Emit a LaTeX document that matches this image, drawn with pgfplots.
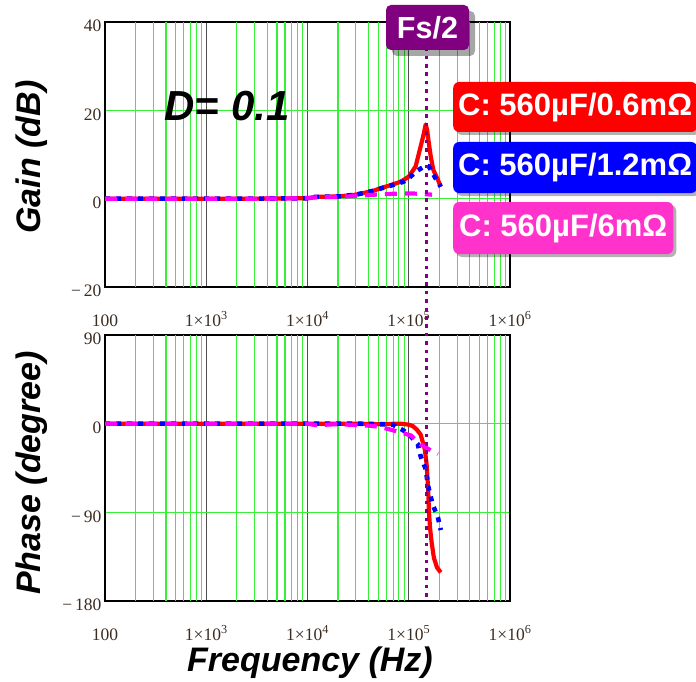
\documentclass[border=0pt]{standalone}
\usepackage{pgfplots}
\pgfplotsset{compat=1.18}
\usepackage{fontspec}
\setmainfont{Liberation Serif}
\newfontfamily\arial{Liberation Sans}
\usetikzlibrary{shadows}
\definecolor{gridgreen}{RGB}{55,240,55}
\definecolor{decgray}{RGB}{80,80,80}
\definecolor{fspurple}{RGB}{128,0,128}
\definecolor{legmag}{RGB}{255,51,204}
\definecolor{ticktxt}{RGB}{60,45,35}
\definecolor{cred}{RGB}{255,0,0}
\definecolor{cblue}{RGB}{0,0,255}
\definecolor{cmag}{RGB}{255,0,255}
\newcommand{\lblfont}{\arial\bfseries\itshape\fontsize{34}{36}\selectfont}
\newcommand{\legfont}{\arial\bfseries\fontsize{31}{33}\selectfont}
\tikzset{
 redl/.style={cred, line width=4.2pt, line join=round},
 bluel/.style={cblue, line width=4.6pt, dash pattern=on 5pt off 6pt},
 magl/.style={cmag, line width=4.2pt, dash pattern=on 12pt off 8pt},
}
\begin{document}
\begin{tikzpicture}
\path[use as bounding box] (0pt,0pt) rectangle (696pt,-682pt);
% ---------- Gain ----------
\begin{axis}[xmode=log, scale only axis, width=405pt,
  xmin=100, xmax=1000000,
  xtick={100,1000,10000,100000,1000000},
  xticklabels={100, 1×10\textsuperscript{3}, 1×10\textsuperscript{4}, 1×10\textsuperscript{5}, 1×10\textsuperscript{6}},
  minor xtick={},
  extra x ticks={200,300,400,500,600,700,800,900,2000,3000,4000,5000,6000,7000,8000,9000,20000,30000,40000,50000,60000,70000,80000,90000,200000,300000,400000,500000,600000,700000,800000,900000},
  extra x tick labels={},
  extra x tick style={xmajorgrids=true, major x grid style={gridgreen, line width=1.1pt}},
  major tick length=0pt, minor tick length=0pt,
  xmajorgrids, ymajorgrids,
  major x grid style={decgray, line width=1.2pt},
  major y grid style={gridgreen, line width=1.1pt},
  axis line style={black, line width=1.8pt},
  tick label style={font=\fontsize{17.5}{18}\selectfont, text=ticktxt},
  xticklabel style={anchor=base, yshift=-39pt},
  yticklabel style={anchor=east, yshift=-4pt},
  at={(105pt,-287pt)}, anchor=south west, height=265pt,
  ymin=-20, ymax=40, ytick={-20,0,20,40}, yticklabels={−\,20,0,20,40}]
\addplot[redl] table {
f g
100 0
300 0
1000 0
3000 0
10000 0.1
12000 0.4
20000 0.5
30000 0.9
36000 1.3
45000 1.8
53000 2.4
65000 3.0
80000 3.7
90000 4.3
100000 5.0
117000 7.3
131000 11.8
140000 14.5
147000 16.8
152000 15.5
158000 12.5
165000 9.5
175000 6.5
194000 4.3
207000 2.7
};
\addplot[bluel] table {
f g
100 0
300 0
1000 0
3000 0
10000 0.1
12000 0.4
20000 0.5
30000 0.9
36000 1.3
45000 1.8
53000 2.3
65000 2.9
80000 3.5
90000 3.9
100000 4.6
117000 6.1
131000 6.8
147000 7.5
158000 7.3
170000 6.0
185000 4.5
200000 3.3
207000 2.7
};
\addplot[magl] table {
f g
100 0
300 0
1000 0
3000 0
10000 0.1
12000 0.3
20000 0.4
30000 0.6
40000 0.8
53000 1.0
70000 1.1
100000 1.2
130000 1.1
150000 1.0
170000 0.9
};
\coordinate (fsA) at (axis cs:150000,40);
\end{axis}
% ---------- Phase ----------
\begin{axis}[xmode=log, scale only axis, width=405pt,
  xmin=100, xmax=1000000,
  xtick={100,1000,10000,100000,1000000},
  xticklabels={100, 1×10\textsuperscript{3}, 1×10\textsuperscript{4}, 1×10\textsuperscript{5}, 1×10\textsuperscript{6}},
  minor xtick={},
  extra x ticks={200,300,400,500,600,700,800,900,2000,3000,4000,5000,6000,7000,8000,9000,20000,30000,40000,50000,60000,70000,80000,90000,200000,300000,400000,500000,600000,700000,800000,900000},
  extra x tick labels={},
  extra x tick style={xmajorgrids=true, major x grid style={gridgreen, line width=1.1pt}},
  major tick length=0pt, minor tick length=0pt,
  xmajorgrids, ymajorgrids,
  major x grid style={decgray, line width=1.2pt},
  major y grid style={gridgreen, line width=1.1pt},
  axis line style={black, line width=1.8pt},
  tick label style={font=\fontsize{17.5}{18}\selectfont, text=ticktxt},
  xticklabel style={anchor=base, yshift=-39pt},
  yticklabel style={anchor=east, yshift=-4pt},
  at={(105pt,-601pt)}, anchor=south west, height=266pt,
  ymin=-180, ymax=90, ytick={-180,-90,0,90}, yticklabels={−\,180,−\,90,0,90}]
\addplot[redl] table {
f p
100 0
1000 0
10000 0
30000 0
50000 -0.5
83000 0
100000 -1
110000 -2.5
120000 -6
131000 -11
144000 -26
150000 -41
153000 -55
156000 -70
158000 -88
162000 -105
168000 -120
177000 -136
190000 -146
207000 -151
};
\addplot[bluel] table {
f p
100 0
1000 0
10000 0
30000 0
50000 -0.5
70000 -1
89000 -7
105000 -13
123000 -21
131000 -33
147000 -46
155000 -63
172000 -82
194000 -95
207000 -108
};
\addplot[magl] table {
f p
100 0
1000 0
10000 0
12000 -1.5
20000 -0.5
40000 -2
50000 -3
66000 -6
83000 -9
105000 -12
131000 -21
158000 -26
194000 -31
};
\coordinate (fsB) at (axis cs:150000,-180);
\end{axis}
% Fs/2 marker line
\draw[fspurple, line width=3.6pt, dash pattern=on 3.6pt off 4.8pt] (fsA) -- (fsB);
\node[fill=fspurple, text=white, rounded corners=5pt, minimum width=83pt, minimum height=45pt,
  font=\arial\bfseries\fontsize{30.5}{32}\selectfont,
  drop shadow={shadow xshift=6pt, shadow yshift=-6pt, opacity=0.35, fill=black}]
  at (427.5pt,-27.5pt) {Fs/2};
% legend boxes
\node[anchor=west, fill=cred, text=white, rounded corners=6pt, minimum height=50pt, inner xsep=5pt,
  font=\legfont, drop shadow={shadow xshift=3pt, shadow yshift=-3pt, opacity=0.3, fill=black}]
  at (453pt,-107pt) {C: 560µF/0.6mΩ};
\node[anchor=west, fill=cblue, text=white, rounded corners=6pt, minimum height=51pt, inner xsep=5pt,
  font=\legfont, drop shadow={shadow xshift=3pt, shadow yshift=-3pt, opacity=0.3, fill=black}]
  at (453pt,-167.5pt) {C: 560µF/1.2mΩ};
\node[anchor=west, fill=legmag, text=white, rounded corners=6pt, minimum height=52pt, inner xsep=6pt,
  font=\legfont, drop shadow={shadow xshift=3pt, shadow yshift=-3pt, opacity=0.3, fill=black}]
  at (453pt,-228pt) {C: 560µF/6mΩ};
% D label
\node[font=\arial\bfseries\itshape\fontsize{42}{44}\selectfont] at (227pt,-106pt) {D= 0.1};
% axis labels
\node[rotate=90, font=\lblfont] at (32pt,-157pt) {Gain (dB)};
\node[rotate=90, font=\lblfont] at (32pt,-473pt) {Phase (degree)};
\node[font=\lblfont] at (310pt,-663pt) {Frequency (Hz)};
\end{tikzpicture}
\end{document}
